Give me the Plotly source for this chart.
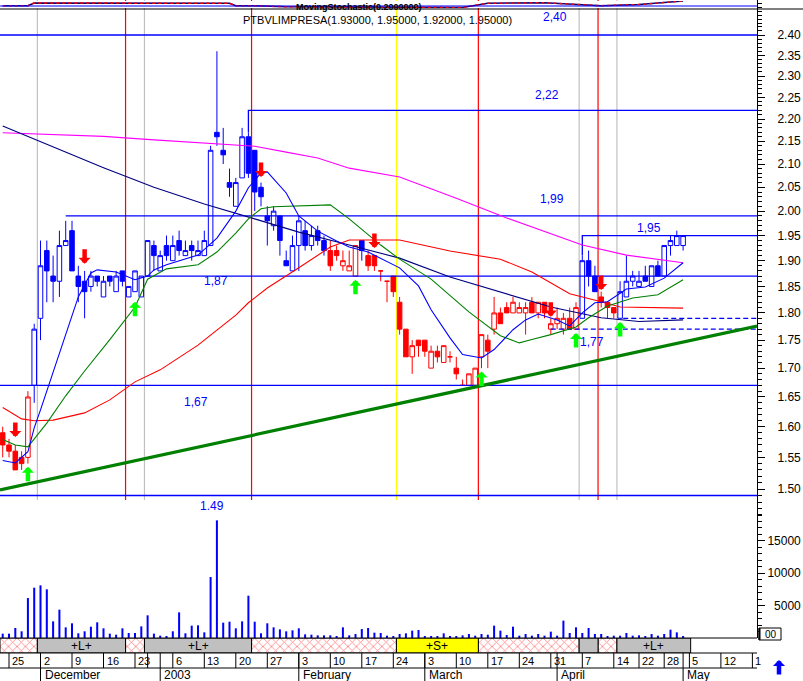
import math
import plotly.graph_objects as go

# ---------------- data ----------------
# one candle per trading day, index 0 = 22 Nov 2002 ... 108 = 2 May 2003
opens = [1.59,1.57,1.56,1.55,1.55,1.67,1.79,1.92,1.87,1.86,
         1.93,1.96,1.87,1.86,1.85,1.87,1.83,1.87,1.84,1.88,
         1.83,1.84,1.83,1.87,1.93,1.88,1.93,1.90,1.94,1.91,
         1.93,1.91,1.91,1.93,2.17,2.13,2.06,2.01,2.07,2.16,
         2.13,2.05,1.99,1.97,1.99,1.90,1.88,1.93,1.96,1.93,
         1.96,1.94,1.92,1.92,1.89,1.88,1.87,1.94,1.91,1.91,
         1.88,1.86,1.87,1.82,1.77,1.72,1.75,1.75,1.70,1.73,
         1.71,1.72,1.70,1.67,1.67,1.67,1.72,1.75,1.77,1.80,
         1.81,1.80,1.80,1.80,1.82,1.80,1.82,1.77,1.78,1.77,
         1.79,1.77,1.79,1.90,1.87,1.83,1.82,1.81,1.79,1.83,
         1.86,1.85,1.87,1.85,1.89,1.87,1.93,1.93,1.93]
highs = [1.60,1.58,1.57,1.56,1.66,1.78,1.94,1.94,1.91,1.96,
         1.98,1.98,1.89,1.88,1.88,1.87,1.87,1.87,1.88,1.88,
         1.85,1.88,1.87,1.94,1.94,1.92,1.95,1.95,1.96,1.94,
         1.94,1.94,1.96,2.14,2.36,2.18,2.09,2.07,2.18,2.17,
         2.13,2.06,2.01,2.01,1.99,1.92,1.95,1.99,1.98,1.97,
         1.97,1.95,1.94,1.93,1.92,1.92,1.93,1.94,1.92,1.91,
         1.88,1.86,1.87,1.83,1.77,1.75,1.75,1.75,1.74,1.74,
         1.74,1.73,1.72,1.68,1.69,1.70,1.76,1.76,1.83,1.81,
         1.82,1.83,1.82,1.82,1.83,1.82,1.82,1.79,1.81,1.80,
         1.81,1.82,1.91,1.92,1.89,1.84,1.82,1.81,1.86,1.91,
         1.88,1.88,1.89,1.89,1.90,1.93,1.95,1.96,1.95]
lows = [1.55,1.55,1.53,1.53,1.54,1.64,1.75,1.82,1.82,1.83,
        1.93,1.88,1.82,1.79,1.84,1.85,1.83,1.85,1.84,1.85,
        1.83,1.84,1.83,1.87,1.88,1.88,1.90,1.90,1.91,1.91,
        1.90,1.91,1.91,1.93,2.14,2.10,2.03,2.01,2.07,2.07,
        2.00,2.01,1.93,1.96,1.91,1.89,1.88,1.88,1.92,1.92,
        1.93,1.91,1.88,1.90,1.88,1.88,1.87,1.90,1.88,1.88,
        1.86,1.82,1.83,1.76,1.72,1.69,1.72,1.72,1.70,1.71,
        1.71,1.71,1.68,1.67,1.67,1.67,1.70,1.70,1.76,1.78,
        1.80,1.80,1.80,1.76,1.80,1.79,1.79,1.76,1.77,1.76,
        1.77,1.77,1.79,1.85,1.84,1.81,1.79,1.79,1.79,1.83,
        1.85,1.85,1.86,1.85,1.87,1.87,1.91,1.93,1.92]
closes = [1.57,1.56,1.53,1.54,1.65,1.77,1.89,1.88,1.86,1.93,
          1.94,1.88,1.85,1.84,1.87,1.86,1.86,1.86,1.87,1.86,
          1.85,1.88,1.87,1.94,1.91,1.91,1.91,1.93,1.92,1.92,
          1.92,1.92,1.94,2.13,2.16,2.12,2.05,2.06,2.16,2.08,
          2.04,2.03,1.98,2.00,1.94,1.89,1.93,1.98,1.93,1.95,
          1.94,1.92,1.89,1.91,1.90,1.89,1.93,1.92,1.89,1.89,
          1.88,1.86,1.84,1.77,1.72,1.74,1.74,1.73,1.73,1.72,
          1.74,1.72,1.69,1.67,1.69,1.70,1.76,1.73,1.80,1.78,
          1.80,1.82,1.81,1.81,1.80,1.82,1.80,1.78,1.79,1.79,
          1.77,1.81,1.90,1.87,1.84,1.82,1.81,1.80,1.84,1.86,
          1.87,1.86,1.86,1.89,1.87,1.93,1.94,1.95,1.95]
volumes = [670,670,1540,1030,6150,7740,8100,7490,2560,4360,
           1640,2260,720,1030,1740,2410,1490,670,510,1490,
           770,770,1790,3490,670,360,260,1030,3950,720,
           1900,1950,870,9380,18100,2360,2510,1490,2560,6510,
           2510,720,2260,1640,1330,1030,1180,1490,560,510,
           410,410,410,260,1640,410,620,1380,1540,820,
           770,360,260,615,720,1130,1230,200,200,260,
           720,260,260,410,615,360,615,510,1900,1130,
           460,1740,360,615,360,615,360,975,360,2670,
           770,1640,770,1540,615,615,260,360,360,770,
           360,410,260,615,360,615,1280,870,260]
# index ranges (inclusive) of candles drawn in red; the rest are blue
red_runs = [(0, 4), (52, 56), (58, 91), (95, 97)]

# moving averages, read at sample days
ma200_idx = [0, 16, 24, 32, 40, 45, 50, 55, 63, 72, 80, 92, 99, 108]
ma200_val = [2.169, 2.161, 2.153, 2.146, 2.139, 2.126, 2.113, 2.091, 2.072, 2.027, 1.986, 1.931, 1.911, 1.896]
ma100_idx = [0, 8, 16, 24, 32, 40, 47, 55, 63, 71, 79, 87, 95, 101, 108]
ma100_val = [2.184, 2.138, 2.092, 2.050, 2.015, 1.984, 1.957, 1.931, 1.905, 1.868, 1.840, 1.811, 1.791, 1.784, 1.787]
ma50_idx = [0, 3, 5, 8, 13, 17, 21, 25, 31, 37, 39, 42, 47, 52, 55, 63, 71, 79, 84, 90, 95, 98, 108]
ma50_val = [1.632, 1.613, 1.610, 1.611, 1.623, 1.645, 1.676, 1.697, 1.741, 1.796, 1.819, 1.847, 1.886, 1.927,
            1.941, 1.941, 1.919, 1.903, 1.878, 1.836, 1.821, 1.811, 1.809]
ma20_idx = [0, 2, 4, 7, 10, 13, 17, 21, 23, 26, 31, 34, 37, 39, 41, 43, 52, 55, 60, 63, 68, 74, 79, 82, 84,
            87, 91, 93, 96, 100, 104, 108]
ma20_val = [1.579, 1.570, 1.567, 1.606, 1.652, 1.695, 1.751, 1.811, 1.864, 1.884, 1.892, 1.917, 1.955, 1.984,
            2.005, 2.009, 2.013, 1.984, 1.931, 1.903, 1.864, 1.802, 1.758, 1.745, 1.751, 1.760, 1.774, 1.791,
            1.813, 1.828, 1.834, 1.863]
ma10_idx = [0, 2, 4, 5, 6, 8, 10, 12, 14, 15, 18, 21, 23, 24, 26, 29, 31, 34, 37, 39, 41, 42, 45, 47, 50, 53,
            55, 58, 60, 63, 66, 68, 71, 73, 76, 78, 81, 83, 85, 88, 90, 92, 94, 96, 99, 102, 105, 108]
ma10_val = [1.545, 1.541, 1.559, 1.598, 1.628, 1.692, 1.760, 1.830, 1.876, 1.882, 1.878, 1.863, 1.870, 1.882,
            1.892, 1.903, 1.911, 1.945, 2.000, 2.049, 2.081, 2.083, 2.038, 1.990, 1.959, 1.939, 1.927, 1.917,
            1.905, 1.886, 1.851, 1.806, 1.754, 1.724, 1.718, 1.733, 1.769, 1.787, 1.798, 1.787, 1.776, 1.800,
            1.819, 1.821, 1.845, 1.849, 1.866, 1.896]

# support trend line (start / end)
trend_idx = [-0.43, 119.73]
trend_val = [1.4985, 1.7758]

# horizontal levels
level_val = [2.40, 2.22, 1.99, 1.95, 1.87, 1.67, 1.49]
level_from = [-0.43, 39, 10, 92, 22.7, -0.43, -0.43]
level_anchor = [None, 2.17, None, 1.91, None, None, None]  # candle high the level is drawn from
level_label = ["2,40", "2,22", "1,99", "1,95", "1,87", "1,67", "1.49"]
label_idx = [87.7, 86.4, 87.2, 102.6, 33.9, 30.7, 33.2]
label_val = [2.445, 2.2555, 2.025, 1.9655, 1.861, 1.642, 1.474]
dashed_val = [1.77, 1.79]
dashed_from = [87, 98.5]
dashed_label_idx = [93.5]
dashed_label_val = [1.747]

# signals
sell_idx = [2, 13, 41, 59, 87, 95]
sell_tip = [1.583, 1.894, 2.072, 1.925, 1.793, 1.843]
buy_idx = [4, 21, 56, 76, 91, 98]
buy_tip = [1.535, 1.821, 1.863, 1.694, 1.763, 1.783]

grey_lines = [5.5, 22.5, 91.5, 97.5]
red_lines = [19.5, 39.5, 75.5, 94.5]
yellow_lines = [62.5]

band_start = [-0.43, 5.5, 19.5, 22.5, 39.5, 62.5, 75.5, 91.5, 94.5, 97.5]
band_end = [5.5, 19.5, 22.5, 39.5, 62.5, 75.5, 91.5, 94.5, 97.5, 109.2]
band_kind = ['X', 'L', 'X', 'L', 'X', 'S', 'X', 'L', 'X', 'L']
band_text = ['', '+L+', '', '+L+', '', '+S+', '', '', '', '+L+']

# date axis
day_tick_idx = [1, 6, 11, 16, 21, 23, 27, 32, 37, 42, 47, 52, 57, 62, 67, 72, 77, 82, 87, 92, 97, 101, 105,
                109, 114, 119]
day_tick_lab = ["25", "2", "9", "16", "23", "", "6", "13", "20", "27", "3", "10", "17", "24", "3", "10", "17",
                "24", "31", "7", "14", "22", "28", "5", "12", "1"]
month_idx = [6, 25, 47, 67, 88, 108]
month_lab = ["December", "2003", "February", "March", "April", "May"]

price_tick_vals = [1.50, 1.55, 1.60, 1.65, 1.70, 1.75, 1.80, 1.85, 1.90, 1.95, 2.00, 2.05, 2.10, 2.15,
                   2.20, 2.25, 2.30, 2.35, 2.40, 2.45]
price_tick_text = ["1.50", "1.55", "1.60", "1.65", "1.70", "1.75", "1.80", "1.85", "1.90", "1.95", "2.00",
                   "2.05", "2.10", "2.15", "2.20", "2.25", "2.30", "2.35", "2.40", ""]
vol_tick_vals = [5000, 10000, 15000, 20000]
vol_tick_text = ["\u20075000", "10000", "15000", ""]

# small overview strip at the top
ov_idx = [0, 4, 5, 12, 23, 26, 36, 37, 40, 45, 63, 73, 77, 86, 95, 101, 108]
ov_val = [33, 33, 72, 72, 72, 67, 67, 33, 33, 17, 8, 8, 67, 75, 33, 50, 100]

title_text = "PTBVLIMPRESA(1.93000, 1.95000, 1.92000, 1.95000)"
legend_blob = "<b>MovingStochastic(0.2000000)</b>"

# ---------------- layout helpers ----------------
W, H = 803, 681
RIGHT = 757
FONT = "Liberation Sans, Arial, sans-serif"
BLUE = "#0000ff"
RED = "#ff0000"


def py(p):
    return 1 - p / H


def px(p):
    return p / W


XR = [-0.43, 119.73]

fig = go.Figure()

# level lines
for k, v in enumerate(level_val):
    if level_anchor[k] is None:
        xs, ys = [level_from[k], XR[1]], [v, v]
    else:
        xs, ys = [level_from[k], level_from[k], XR[1]], [level_anchor[k], v, v]
    fig.add_trace(go.Scatter(x=xs, y=ys, mode="lines", line=dict(color=BLUE, width=1.3)))
for v, f in zip(dashed_val, dashed_from):
    fig.add_trace(go.Scatter(x=[f, XR[1]], y=[v, v], mode="lines",
                             line=dict(color=BLUE, width=1.2, dash="5px,3px")))

# trend line
fig.add_trace(go.Scatter(x=trend_idx, y=trend_val, mode="lines", line=dict(color="#008000", width=3.2)))

# moving averages
for xi, yv, col in [(ma200_idx, ma200_val, "#ff00ff"), (ma100_idx, ma100_val, "#000080"),
                    (ma50_idx, ma50_val, RED), (ma20_idx, ma20_val, "#008000"),
                    (ma10_idx, ma10_val, BLUE)]:
    fig.add_trace(go.Scatter(x=xi, y=yv, mode="lines", line=dict(color=col, width=1.1)))

# candles
red_set = set()
for a, b in red_runs:
    red_set.update(range(a, b + 1))
all_idx = list(range(len(closes)))
for col, members in [(BLUE, [i for i in all_idx if i not in red_set]),
                     (RED, [i for i in all_idx if i in red_set])]:
    fig.add_trace(go.Candlestick(
        x=members,
        open=[opens[i] for i in members], high=[highs[i] for i in members],
        low=[lows[i] for i in members], close=[closes[i] for i in members],
        increasing=dict(line=dict(color=col, width=1), fillcolor="white"),
        decreasing=dict(line=dict(color=col, width=1), fillcolor=col),
        whiskerwidth=0, xaxis="x", yaxis="y"))

# volume
fig.add_trace(go.Bar(x=all_idx, y=volumes, width=0.32, marker=dict(color=BLUE, line=dict(width=0)),
                     xaxis="x", yaxis="y2"))

# signal band
styles = {
    'X': dict(color="white", line=dict(color="black", width=1),
              pattern=dict(shape="x", fgcolor=RED, bgcolor="white", size=6, solidity=0.25)),
    'L': dict(color="#c0c0c0", line=dict(color="black", width=1)),
    'S': dict(color="#ffff00", line=dict(color="black", width=1)),
}
for kind, mk in styles.items():
    sel = [k for k in range(len(band_kind)) if band_kind[k] == kind]
    fig.add_trace(go.Bar(x=[(band_start[k] + band_end[k]) / 2 for k in sel], y=[1] * len(sel),
                         width=[band_end[k] - band_start[k] for k in sel], base=0,
                         marker=mk, xaxis="x", yaxis="y4"))

# overview strip
fig.add_trace(go.Scatter(x=ov_idx, y=ov_val, mode="lines", line=dict(color="#000080", width=1.5),
                         xaxis="x", yaxis="y3"))
fig.add_trace(go.Scatter(x=ov_idx, y=ov_val, mode="lines", line=dict(color=RED, width=1.5, dash="3px,3px"),
                         xaxis="x", yaxis="y3"))

shapes = []
for lst, col in [(grey_lines, "#c0c0c0"), (red_lines, RED), (yellow_lines, "#ffff00")]:
    for v in lst:
        shapes.append(dict(type="line", xref="x", yref="paper", x0=v, x1=v, y0=py(638), y1=1,
                           line=dict(color=col, width=1.2), layer="below"))
# top strip lines
shapes.append(dict(type="line", xref="paper", yref="paper", x0=0, x1=px(RIGHT), y0=py(6), y1=py(6),
                   line=dict(color=BLUE, width=1)))
shapes.append(dict(type="line", xref="paper", yref="paper", x0=0, x1=1, y0=py(9), y1=py(9),
                   line=dict(color="black", width=1)))
# bottom rows
for yy in (638, 653, 668):
    shapes.append(dict(type="line", xref="paper", yref="paper", x0=0, x1=px(RIGHT), y0=py(yy), y1=py(yy),
                       line=dict(color="black", width=1)))
for v in day_tick_idx:
    shapes.append(dict(type="line", xref="x", yref="paper", x0=v, x1=v, y0=py(668), y1=py(653),
                       line=dict(color="black", width=1)))
for v in month_idx:
    shapes.append(dict(type="line", xref="x", yref="paper", x0=v, x1=v, y0=py(681), y1=py(653),
                       line=dict(color="black", width=1)))
# small box bottom right
shapes.append(dict(type="rect", xref="paper", yref="paper", x0=px(759), x1=px(781), y0=py(640), y1=py(628),
                   line=dict(color="black", width=1), fillcolor="white"))
shapes.append(dict(type="line", xref="paper", yref="paper", x0=px(759.5), x1=px(759.5), y0=py(640),
                   y1=py(628), line=dict(color="black", width=2)))

ann = []


def text_ann(x, y, t, xref="paper", yref="paper", size=12, color="black", xanchor="center", xshift=0):
    return dict(x=x, y=y, xref=xref, yref=yref, text=t, showarrow=False, xanchor=xanchor,
                yanchor="middle", xshift=xshift, font=dict(family=FONT, size=size, color=color))


for t, xi, yv in zip(level_label, label_idx, label_val):
    ann.append(text_ann(xi, math.log10(yv), t, "x", "y", color=BLUE))
for xi, yv in zip(dashed_label_idx, dashed_label_val):
    ann.append(text_ann(xi, math.log10(yv), "1,77", "x", "y", color=BLUE))
for i, p in zip(sell_idx, sell_tip):
    ann.append(dict(x=i, y=math.log10(p), xref="x", yref="y", text="", showarrow=True, ax=0, ay=-16,
                    arrowhead=1, arrowsize=0.45, arrowwidth=4.5, arrowcolor=RED))
for i, p in zip(buy_idx, buy_tip):
    ann.append(dict(x=i, y=math.log10(p), xref="x", yref="y", text="", showarrow=True, ax=0, ay=16,
                    arrowhead=1, arrowsize=0.45, arrowwidth=4.5, arrowcolor="#00ff00"))
for k in range(len(band_text)):
    if band_text[k]:
        ann.append(text_ann((band_start[k] + band_end[k]) / 2, py(645.5), band_text[k], "x", "paper"))
for v, t in zip(day_tick_idx, day_tick_lab):
    if t:
        ann.append(text_ann(v, py(660.5), t, "x", "paper", size=11, xanchor="left", xshift=1))
for v, t in zip(month_idx, month_lab):
    ann.append(text_ann(v, py(675), t, "x", "paper", xanchor="left", xshift=2))
ann.append(text_ann(px(241), py(20), title_text, size=11, xanchor="left"))
ann.append(text_ann(px(294), py(7.5), legend_blob, size=9, xanchor="left"))
ann.append(text_ann(px(763), py(634), "00", size=10, xanchor="left"))
ann.append(dict(x=px(779), y=py(660), xref="paper", yref="paper", text="", showarrow=True, ax=0, ay=16,
                arrowhead=1, arrowsize=0.45, arrowwidth=4.5, arrowcolor=BLUE))

minor_price = [round(1.46 + 0.01 * k, 2) for k in range(103)]

axis_common = dict(side="right", anchor="x", showgrid=False, zeroline=False, showline=True,
                   linecolor="black", linewidth=1, ticks="outside", ticklen=7, tickcolor="black",
                   tickmode="array", tickfont=dict(family=FONT, size=12, color="black"),
                   fixedrange=True)

fig.update_layout(
    width=W, height=H, margin=dict(l=0, r=0, t=0, b=0),
    paper_bgcolor="white", plot_bgcolor="white",
    showlegend=False, hovermode=False, barmode="overlay",
    boxgap=0.15, boxgroupgap=0.15,
    xaxis=dict(domain=[0, px(RIGHT)], range=XR, showticklabels=False, showgrid=False, zeroline=False,
               ticks="", showline=False, rangeslider=dict(visible=False), fixedrange=True),
    yaxis=dict(domain=[py(520), 1], type="log", range=[0.162175, 0.395945],
               tickvals=price_tick_vals, ticktext=price_tick_text, ticklabelstandoff=10,
               minor=dict(tickmode="array", tickvals=minor_price, ticks="outside", ticklen=4,
                          tickcolor="black"),
               **axis_common),
    yaxis2=dict(domain=[py(638), py(500)], range=[0, 21231], tickvals=vol_tick_vals, ticktext=vol_tick_text,
                ticklabelstandoff=0,
                minor=dict(tickmode="array", tickvals=list(range(1000, 21000, 1000)), ticks="outside",
                           ticklen=4, tickcolor="black"),
                **axis_common),
    yaxis3=dict(domain=[py(8), py(1)], range=[0, 100], visible=False, fixedrange=True),
    yaxis4=dict(domain=[py(653), py(638)], range=[0, 1], visible=False, fixedrange=True),
    shapes=shapes, annotations=ann,
)

fig.write_html("out.html", config={"displayModeBar": False},
               post_script="document.body.style.margin='0';document.body.style.overflow='hidden';")
